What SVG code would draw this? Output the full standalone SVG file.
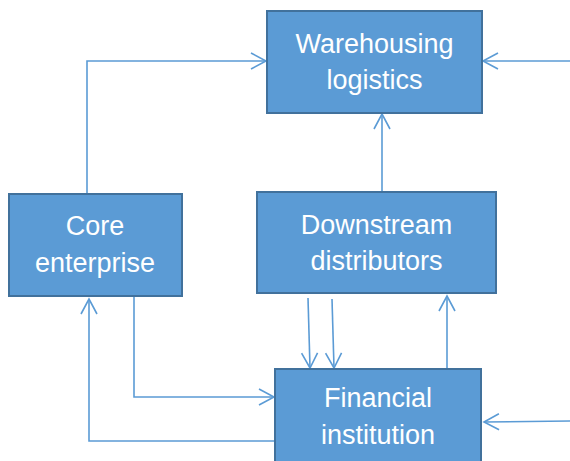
<svg xmlns="http://www.w3.org/2000/svg" width="570" height="461" viewBox="0 0 570 461">
  <defs>
    <style>
      .box { fill: #5B9BD5; stroke: #41719C; stroke-width: 2; }
      .label { fill: #FFFFFF; font-family: "Liberation Sans", Arial, sans-serif; font-size: 27px; text-anchor: middle; }
      .link { fill: none; stroke: #5B9BD5; stroke-width: 1.6; }
    </style>
    <marker id="arrow" viewBox="0 0 18 18" refX="16" refY="9" markerWidth="18" markerHeight="18" markerUnits="userSpaceOnUse" orient="auto">
      <path d="M1,1 L16,9 L1,17" fill="none" stroke="#5B9BD5" stroke-width="1.6"/>
    </marker>
  </defs>

  <rect width="570" height="461" fill="#FFFFFF"/>

  <g id="connectors">
    <!-- core enterprise up and across to warehousing -->
    <polyline class="link" points="87,194 87,61 266,61" marker-end="url(#arrow)"/>
    <!-- incoming from the right to warehousing -->
    <line class="link" x1="570" y1="61" x2="483" y2="61" marker-end="url(#arrow)"/>
    <!-- downstream up to warehousing -->
    <line class="link" x1="382" y1="192" x2="382" y2="114" marker-end="url(#arrow)"/>
    <!-- downstream down to financial (two lines) -->
    <line class="link" x1="308" y1="298" x2="310" y2="368" marker-end="url(#arrow)"/>
    <line class="link" x1="332" y1="299" x2="334" y2="368" marker-end="url(#arrow)"/>
    <!-- financial up to downstream -->
    <line class="link" x1="447" y1="369" x2="447" y2="296" marker-end="url(#arrow)"/>
    <!-- core enterprise down and across to financial -->
    <polyline class="link" points="134,296 134,397 274,397" marker-end="url(#arrow)"/>
    <!-- financial back to core enterprise -->
    <polyline class="link" points="275,441 89,441 89,299" marker-end="url(#arrow)"/>
    <!-- incoming from the right to financial -->
    <line class="link" x1="570" y1="421" x2="484" y2="422" marker-end="url(#arrow)"/>
  </g>

  <g id="warehousing">
    <rect class="box" x="267" y="11" width="215" height="102"/>
    <text class="label" x="374.5" y="53">Warehousing</text>
    <text class="label" x="374.5" y="89">logistics</text>
  </g>

  <g id="core-enterprise">
    <rect class="box" x="9" y="194" width="173" height="102"/>
    <text class="label" x="95" y="235">Core</text>
    <text class="label" x="95" y="272">enterprise</text>
  </g>

  <g id="downstream">
    <rect class="box" x="257" y="192" width="239" height="101"/>
    <text class="label" x="376.5" y="234">Downstream</text>
    <text class="label" x="376.5" y="270">distributors</text>
  </g>

  <g id="financial">
    <rect class="box" x="275" y="369" width="206" height="102"/>
    <text class="label" x="378" y="407">Financial</text>
    <text class="label" x="378" y="444">institution</text>
  </g>
</svg>
